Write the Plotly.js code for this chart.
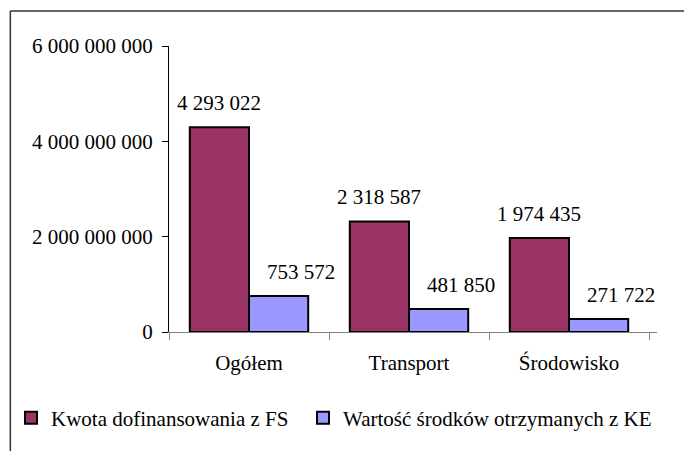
<!DOCTYPE html>
<html>
<head>
<meta charset="utf-8">
<script src="https://cdn.plot.ly/plotly-3.0.1.min.js"></script>
</head>
<body style="margin:0;background:#fff">
<div id="chart"></div>
<script>
// Data (values in thousands, axis shows full units)
const categories = ['Ogółem', 'Transport', 'Środowisko'];
const fsValues = [4293022, 2318587, 1974435];   // Kwota dofinansowania z FS
const keValues = [753572, 481850, 271722];      // Wartość środków otrzymanych z KE
const seriesNames = ['Kwota dofinansowania z FS', 'Wartość środków otrzymanych z KE'];
const yTickVals = [0, 2000000000, 4000000000, 6000000000];
const unit = 1000;

const FONT = 'Liberation Serif';
const FS = 21;
const fmt = v => String(v).replace(/\B(?=(\d{3})+(?!\d))/g, ' ');

const traces = [
  {type: 'bar', name: seriesNames[0], x: categories, y: fsValues.map(v => v * unit),
   marker: {color: '#993366', line: {color: '#000000', width: 2}}, hoverinfo: 'skip', legend: 'legend'},
  {type: 'bar', name: seriesNames[1], x: categories, y: keValues.map(v => v * unit),
   marker: {color: '#9999FF', line: {color: '#000000', width: 2}}, hoverinfo: 'skip', legend: 'legend2'}
];

const annotations = [];
categories.forEach((c, i) => {
  annotations.push({x: c, y: fsValues[i] * unit, xref: 'x', yref: 'y', text: fmt(fsValues[i]),
    showarrow: false, xshift: -30, yshift: 24, yanchor: 'middle', xanchor: 'center',
    font: {family: FONT, size: FS, color: '#000'}});
  annotations.push({x: c, y: keValues[i] * unit, xref: 'x', yref: 'y', text: fmt(keValues[i]),
    showarrow: false, xshift: 52, yshift: 24, yanchor: 'middle', xanchor: 'center',
    font: {family: FONT, size: FS, color: '#000'}});
});

// plot area: x 168..657, y 46..332
const L = 168, R = 27, T = 46, B = 119, W = 684, H = 451;
const pw = W - L - R, ph = H - T - B;
const px = x => (x - L) / pw;
const py = y => (H - B - y) / ph;

const legendBase = {orientation: 'h', xanchor: 'left', y: py(418), yanchor: 'middle',
  font: {family: FONT, size: FS, color: '#000'}, bgcolor: 'rgba(0,0,0,0)'};

const layout = {
  width: W, height: H,
  margin: {l: L, r: R, t: T, b: B, pad: 0},
  paper_bgcolor: '#ffffff', plot_bgcolor: '#ffffff',
  separators: ', ',
  font: {family: FONT, size: FS, color: '#000'},
  barmode: 'group', bargap: 0.26, bargroupgap: 0,
  showlegend: true,
  legend: Object.assign({}, legendBase, {x: px(11)}),
  legend2: Object.assign({}, legendBase, {x: px(303)}),
  xaxis: {type: 'category', showgrid: false, zeroline: false, showline: true,
    linecolor: '#808080', linewidth: 1, ticks: 'outside', tickson: 'boundaries',
    ticklen: 7, tickcolor: '#808080', ticklabelstandoff: 12,
    tickfont: {family: FONT, size: FS, color: '#000'}},
  yaxis: {range: [0, 6000000000], tickvals: yTickVals, tickformat: ',d',
    showgrid: false, zeroline: false, showline: true, linecolor: '#000', linewidth: 1,
    ticks: 'outside', ticklen: 6, tickcolor: '#000', ticklabelstandoff: 5,
    tickfont: {family: FONT, size: FS, color: '#000'}},
  annotations: annotations,
  shapes: [
    {type: 'line', xref: 'paper', yref: 'paper', x0: px(9), x1: px(684), y0: py(11), y1: py(11),
     line: {color: '#333333', width: 1.5}},
    {type: 'line', xref: 'paper', yref: 'paper', x0: px(9), x1: px(9), y0: py(11), y1: py(451),
     line: {color: '#333333', width: 1.5}}
  ]
};

Plotly.newPlot('chart', traces, layout, {displayModeBar: false});
</script>
</body>
</html>
